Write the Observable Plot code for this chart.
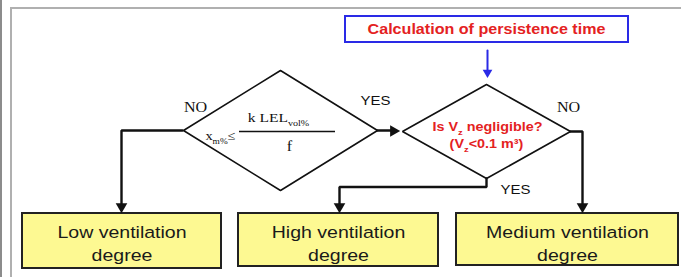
<!DOCTYPE html>
<html><head><meta charset="utf-8">
<script src="https://cdn.jsdelivr.net/npm/d3@7"></script>
<script src="https://cdn.jsdelivr.net/npm/@observablehq/plot@0.6"></script>
<style>body{margin:0;background:#fff;overflow:hidden}</style>
</head><body><div id="chart"></div>
<script>
// ---- content ----
const title = "Calculation of persistence time";
const outcomeLine1 = ["Low ventilation", "High ventilation", "Medium ventilation"];
const outcomeLine2 = ["degree", "degree", "degree"];
const decisionText = ["Is V_{z} negligible?", "(V_{z}<0.1 m³)"];
const formulaText = ["k LEL_{vol%}", "x_{m%}≤", "f"];
const branchLabels = ["NO", "YES", "NO", "YES"];

// ---- layout (flowchart geometry, px) ----
const boxX1 = [22, 238, 456], boxX2 = [221, 438, 678], boxY1 = [213, 213, 213], boxY2 = [268, 266, 265];
const diamondCX = [280, 486], diamondCY = [130, 131], diamondHW = [97, 84], diamondHH = [60, 47];
const connectors = [
  [[182, 130], [121, 130], [121, 206]],
  [[377, 130], [393, 130]],
  [[486, 178], [486, 186.5], [339, 186.5], [339, 206]],
  [[570, 131], [582, 131], [582, 206]]
];
const heads = [[121, 206, 180], [393, 130.5, 90], [339, 206, 180], [582, 206, 180]];

const W = 681, H = 277;
const boxes = outcomeLine1.map((t, i) => ({x1: boxX1[i], x2: boxX2[i], y1: boxY1[i], y2: boxY2[i], l1: t, l2: outcomeLine2[i]}));
const diamondPts = diamondCX.flatMap((cx, i) => {
  const cy = diamondCY[i], hw = diamondHW[i], hh = diamondHH[i];
  return [[cx, cy - hh], [cx + hw, cy], [cx, cy + hh], [cx - hw, cy], [cx, cy - hh]].map(([x, y]) => ({x, y, id: i}));
});
const connPts = connectors.flatMap((c, i) => c.map(([x, y]) => ({x, y, id: i})));
const headPts = heads.map(([x, y, r]) => ({x, y, r}));

const red = "#e4221f", blue = "#2a2ae6";
const sans = "Liberation Sans, Arial, sans-serif", serif = "Liberation Serif, Times New Roman, serif";

const plot = Plot.plot({
  width: W, height: H, margin: 0,
  x: {domain: [0, W], range: [0, W], axis: null},
  y: {domain: [0, H], range: [0, H], axis: null},
  marks: [
    // frame
    Plot.ruleY([7.5], {x1: 10, x2: W, stroke: "#b0b0b0", strokeWidth: 2}),
    Plot.ruleX([10.5], {y1: 7, y2: H, stroke: "#b0b0b0", strokeWidth: 2}),
    Plot.ruleX([0.5], {y1: 0, y2: H, stroke: "#666", strokeWidth: 1.5}),
    // title box
    Plot.rect([{x1: 345, x2: 628, y1: 16, y2: 42}], {x1: "x1", x2: "x2", y1: "y1", y2: "y2", fill: "white", stroke: blue, strokeWidth: 2}),
    Plot.text([title], {x: 486, y: 29, text: d => d, fill: red, fontWeight: "bold", fontSize: 14, fontFamily: sans}),
    Plot.line([{x: 487, y: 50}, {x: 487, y: 72}], {x: "x", y: "y", stroke: blue, strokeWidth: 2}),
    Plot.dot([{x: 487, y: 72}], {x: "x", y: "y", symbol: "triangle", r: 3.6, fill: blue, stroke: "none", rotate: 180}),
    // outcome boxes
    Plot.rect(boxes, {x1: "x1", x2: "x2", y1: "y1", y2: "y2", fill: "#fdf992", stroke: "#222", strokeWidth: 2}),
    Plot.text(boxes, {x: d => (d.x1 + d.x2) / 2, y: 232, text: "l1", fontSize: 17, fontFamily: sans, fill: "#1a1a1a"}),
    Plot.text(boxes, {x: d => (d.x1 + d.x2) / 2, y: 255, text: "l2", fontSize: 17, fontFamily: sans, fill: "#1a1a1a"}),
    // diamonds
    Plot.line(diamondPts, {x: "x", y: "y", z: "id", stroke: "#111", strokeWidth: 1.6, strokeLinejoin: "miter"}),
    // connectors
    Plot.line(connPts, {x: "x", y: "y", z: "id", stroke: "#111", strokeWidth: 2.4, strokeLinejoin: "miter"}),
    Plot.dot(headPts, {x: "x", y: "y", rotate: "r", symbol: "triangle", r: 4.3, fill: "#111", stroke: "none"}),
    // formula
    Plot.ruleY([131], {x1: 239, x2: 335, stroke: "#111", strokeWidth: 1.4}),
    Plot.text([formulaText[0]], {x: 278, y: 117, text: d => d, fontSize: 13.5, fontFamily: serif, fill: "#111"}),
    Plot.text([formulaText[1]], {x: 220, y: 135, text: d => d, fontSize: 12.5, fontFamily: serif, fill: "#111"}),
    Plot.text([formulaText[2]], {x: 289, y: 146, text: d => d, fontSize: 14, fontFamily: serif, fill: "#111"}),
    // decision text
    Plot.text([decisionText[0]], {x: 487, y: 126, text: d => d, fontSize: 12.5, fontWeight: "bold", fontFamily: sans, fill: red}),
    Plot.text([decisionText[1]], {x: 486, y: 143, text: d => d, fontSize: 12.5, fontWeight: "bold", fontFamily: sans, fill: red}),
    // branch labels
    Plot.text([branchLabels[0]], {x: 195, y: 107, text: d => d, fontSize: 14, fontFamily: serif, fill: "#111"}),
    Plot.text([branchLabels[1]], {x: 375, y: 100, text: d => d, fontSize: 13, fontFamily: sans, fill: "#111"}),
    Plot.text([branchLabels[2]], {x: 568, y: 107, text: d => d, fontSize: 14, fontFamily: serif, fill: "#111"}),
    Plot.text([branchLabels[3]], {x: 515, y: 189, text: d => d, fontSize: 13, fontFamily: sans, fill: "#111"})
  ]
});

// rich text: _{...} subscript, ^{...} superscript
function richify(root) {
  root.querySelectorAll("text").forEach(t => {
    const leaves = t.querySelector("tspan") ? [...t.querySelectorAll("tspan")] : [t];
    leaves.forEach(el => {
      const s = el.textContent;
      if (!/[_^]\{/.test(s)) return;
      el.textContent = "";
      const re = /([_^])\{([^}]*)\}/g;
      let last = 0, m, pending = 0;
      const add = (txt, mode) => {
        const ts = document.createElementNS("http://www.w3.org/2000/svg", "tspan");
        if (mode === "_") { ts.setAttribute("font-size", "65%"); ts.setAttribute("dy", "0.5em"); pending = 0.325; }
        else if (mode === "^") { ts.setAttribute("font-size", "65%"); ts.setAttribute("dy", "-0.6em"); pending = -0.39; }
        else { if (pending) ts.setAttribute("dy", (-pending) + "em"); pending = 0; }
        ts.textContent = txt;
        el.appendChild(ts);
      };
      while ((m = re.exec(s))) {
        if (m.index > last) add(s.slice(last, m.index), null);
        add(m[2], m[1]);
        last = re.lastIndex;
      }
      if (last < s.length) add(s.slice(last), null);
    });
  });
}
// the reference image is stretched horizontally; widen the glyphs to match
function stretchText(root, sx) {
  root.querySelectorAll("text").forEach(t => {
    const tr = t.getAttribute("transform");
    if (tr) t.setAttribute("transform", tr + ` scale(${sx},1)`);
    else {
      const x = +t.getAttribute("x") || 0;
      t.setAttribute("transform", `translate(${x},0) scale(${sx},1) translate(${-x},0)`);
    }
  });
}
richify(plot);
stretchText(plot, 1.15);
document.getElementById("chart").appendChild(plot);
</script>
</body></html>
